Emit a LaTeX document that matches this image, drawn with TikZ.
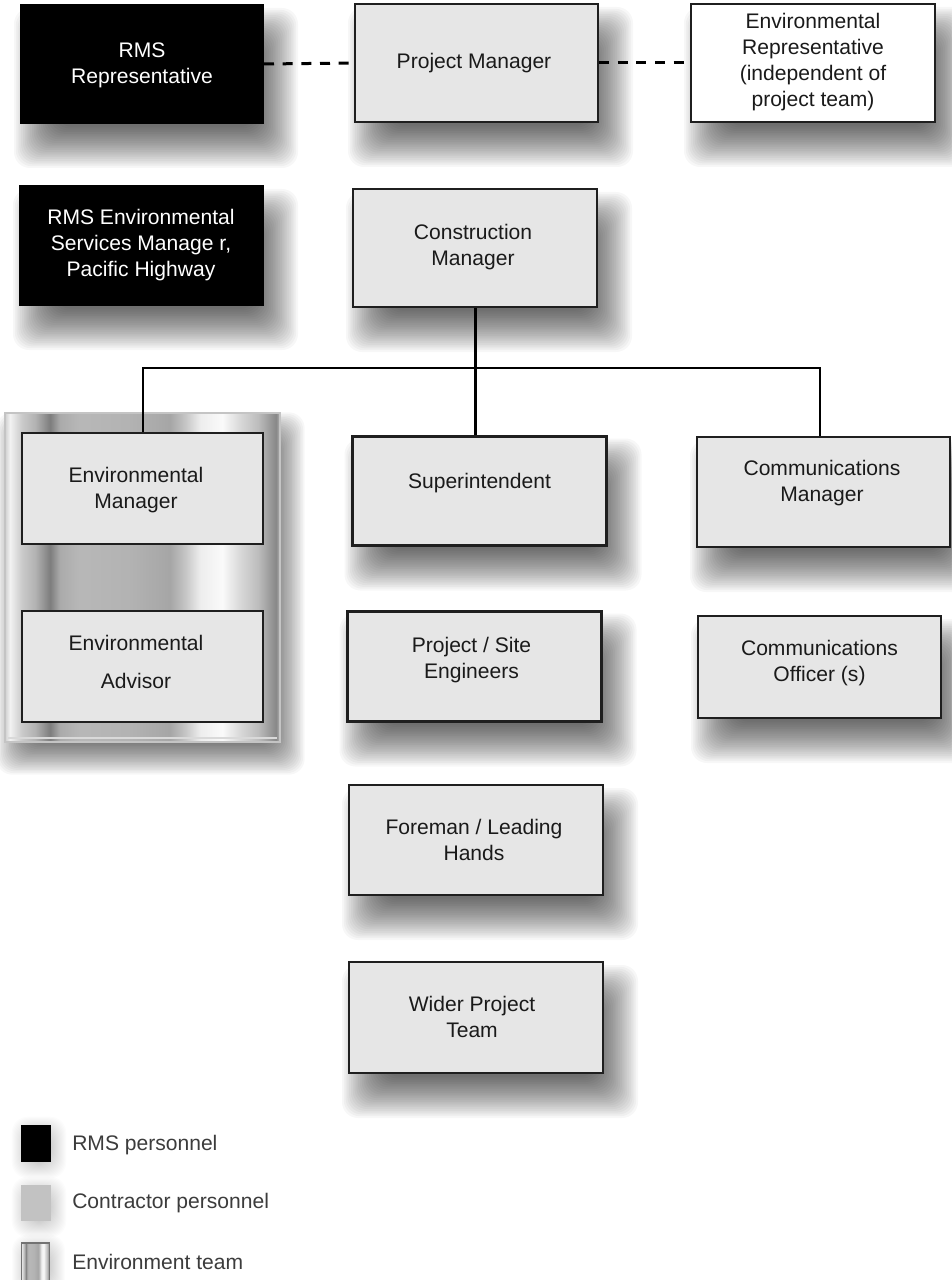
\documentclass[tikz,border=0pt]{standalone}
\usepackage{fontspec}
\setmainfont{Liberation Sans}
\usetikzlibrary{calc}
\definecolor{boxfill}{HTML}{E6E6E6}
\definecolor{txt}{HTML}{1A1A1A}
\definecolor{legtxt}{HTML}{3C3C3C}
\definecolor{leggrey}{HTML}{C2C2C2}
\definecolor{rim}{HTML}{C4C4C4}
\pgfdeclarehorizontalshading{metal}{100bp}{%
color(0bp)=(rim!80!white);
color(25bp)=(rim!80!white);
color(25.9bp)=(black!5);
color(28.1bp)=(black!21);
color(30.5bp)=(black!30);
color(33.2bp)=(black!51);
color(35bp)=(black!33);
color(38.6bp)=(black!28);
color(47.7bp)=(black!30);
color(55bp)=(black!35);
color(57.7bp)=(black!23);
color(60.5bp)=(black!7);
color(64.5bp)=(black!2);
color(67.7bp)=(black!15);
color(71bp)=(black!26);
color(72.8bp)=(black!37);
color(74.3bp)=(black!47);
color(75bp)=(black!28);
color(100bp)=(black!28)}
\pgfdeclarelayer{shadowlayer}
\pgfdeclarelayer{metallayer}
\pgfsetlayers{shadowlayer,metallayer,main}
% soft shadow: #1 node, #2 dx, #3 dy, #4 radius, #5 step, #6 opacity
\newcommand{\softshadow}[6]{%
  \begin{pgfonlayer}{shadowlayer}
  \foreach \i in {0,...,23}{%
    \fill[black, opacity=#6, rounded corners=12pt]
      ($(#1.north west)+(#2-#4+\i*#5, #3-#4+\i*#5)$) rectangle
      ($(#1.south east)+(#2+#4-\i*#5, #3+#4-\i*#5)$);
  }%
  \end{pgfonlayer}}
\begin{document}
\begin{tikzpicture}[x=0.75pt,y=-0.75pt,
  sz/.style 2 args={minimum width=#1*0.75pt, minimum height=#2*0.75pt},
  orgbox/.style={draw=black!88, line width=1.5pt, fill=boxfill, inner sep=0pt},
  heavybox/.style={orgbox, line width=2.25pt},
  rmsbox/.style={orgbox, fill=black, draw=black},
  whitebox/.style={orgbox, fill=white},
  lbl/.style={align=center, text=txt, inner sep=0pt, font=\fontsize{15.8}{19.5}\selectfont},
  rmslbl/.style={lbl, text=white},
  conn/.style={line width=2.25pt, draw=black},
  thinconn/.style={line width=1.1pt, draw=black},
  midconn/.style={line width=1.5pt, draw=black!80},
  dashconn/.style={line width=2.25pt, draw=black, dash pattern=on 7.5pt off 6.5pt},
  legtext/.style={anchor=west, text=legtxt, inner sep=0pt, font=\fontsize{15.8}{19.5}\selectfont}
]
\begin{pgfonlayer}{shadowlayer}
\fill[white] (0,0) rectangle (951,1280);
\end{pgfonlayer}
\useasboundingbox (0,0) rectangle (951,1280);

% environment team background
\begin{pgfonlayer}{metallayer}
\node[draw=rim, line width=1pt, shading=metal, inner sep=0pt, sz={275}{329}] (envteam) at (142.5,577.5) {};
\draw[white!85!black, line width=0.8pt] (8,738) -- (277,738);
\end{pgfonlayer}
\softshadow{envteam}{8}{16}{16}{1.6}{0.03}

% boxes
\node[rmsbox, sz={242}{118}] (rmsrep) at (142,64) {};
\node[rmsbox, sz={243}{119}] (rmsesm) at (141.5,245.5) {};
\node[orgbox, sz={243}{118}] (pm) at (476.5,63) {};
\node[whitebox, sz={244}{118}] (envrep) at (813,63) {};
\node[orgbox, sz={244}{118}] (cm) at (475,248) {};
\node[orgbox, sz={241}{111}] (envmgr) at (142.5,488.5) {};
\node[orgbox, sz={241}{111}] (envadv) at (142.5,666.5) {};
\node[heavybox, sz={254}{109}] (supt) at (479,490.5) {};
\node[heavybox, sz={254}{110}] (eng) at (474,666) {};
\node[orgbox, sz={254}{110}] (foreman) at (476,840) {};
\node[orgbox, sz={254}{111}] (wider) at (476,1017.5) {};
\node[orgbox, sz={253}{110}] (commgr) at (823.5,492) {};
\node[orgbox, sz={243}{102}] (commoff) at (819.5,667) {};

\foreach \n in {rmsrep,rmsesm,pm,envrep,cm,supt,eng,foreman,wider,commgr,commoff}{%
  \softshadow{\n}{14}{24}{20}{1.8}{0.033}}

% labels
\node[rmslbl] (rmsrep-t) at (142,65) {RMS\\Representative};
\node[rmslbl] (rmsesm-t) at (141,245) {RMS Environmental\\Services Manage r,\\Pacific Highway};
\node[lbl] (pm-t) at (474,63) {Project Manager};
\node[lbl] (envrep-t) at (813,62) {Environmental\\Representative\\(independent of\\project team)};
\node[lbl] (cm-t) at (473,247) {Construction\\Manager};
\node[lbl] (envmgr-t) at (136,490) {Environmental\\Manager};
\node[lbl] (envadv-t) at (136,662) {Environmental\\[9pt]Advisor};
\node[lbl] (supt-t) at (479.5,483) {Superintendent};
\node[lbl] (eng-t) at (471.5,660) {Project / Site\\Engineers};
\node[lbl] (foreman-t) at (474,840) {Foreman / Leading\\Hands};
\node[lbl] (wider-t) at (472,1017) {Wider Project\\Team};
\node[lbl] (commgr-t) at (822,483) {Communications\\Manager};
\node[lbl] (commoff-t) at (819.5,663.5) {Communications\\Officer (s)};

% connectors
\coordinate (busL) at (143,368);
\coordinate (busR) at (820,368);
\draw[dashconn] (rmsrep.east) -- (pm.west);
\draw[dashconn] (pm.east) -- (pm.east -| envrep.west);
\draw[dashconn] ($(rmsrep.south)+(-3,0)$) -- ($(rmsrep.south)+(-3,0)$ |- rmsesm.north);
\draw[conn] ($(pm.south)+(-1.5,0)$) -- ($(pm.south)+(-1.5,0)$ |- cm.north);
\draw[conn] (cm.south) -- (cm.south |- supt.north);
\draw[thinconn] (busL |- envmgr.north) -- (busL) -- (busR) -- (busR |- commgr.north);
\draw[midconn] ($(envmgr.south)+(-1.5,0)$) -- ($(envmgr.south)+(-1.5,0)$ |- envadv.north);
\draw[conn] ($(supt.south)+(-5,0)$) -- ($(supt.south)+(-5,0)$ |- eng.north);
\draw[conn] ($(eng.south)+(-3,0)$) -- ($(eng.south)+(-3,0)$ |- foreman.north);
\draw[thinconn, draw=black!80] ($(foreman.south)+(-3,0)$) -- ($(foreman.south)+(-3,0)$ |- wider.north);
\draw[thinconn, draw=black!80] ($(commgr.south)+(-2.5,0)$) -- ($(commgr.south)+(-2.5,0)$ |- commoff.north);

% legend
\node[fill=black, inner sep=0pt, sz={30}{37}] (legrms) at (36,1143.5) {};
\node[fill=leggrey, inner sep=0pt, sz={30}{36}] (legcon) at (36,1203) {};
\node[draw=black!55, line width=0.8pt, shading=metal, inner sep=0pt, sz={28}{38}] (legenv) at (35.5,1262) {};
\foreach \n in {legrms,legcon,legenv}{\softshadow{\n}{3}{4}{12}{1}{0.012}}
\node[legtext] (legrmst) at (72,1145) {RMS personnel};
\node[legtext] (legcont) at (72,1203) {Contractor personnel};
\node[legtext] (legenvt) at (72,1262) {Environment team};
\end{tikzpicture}
\end{document}
